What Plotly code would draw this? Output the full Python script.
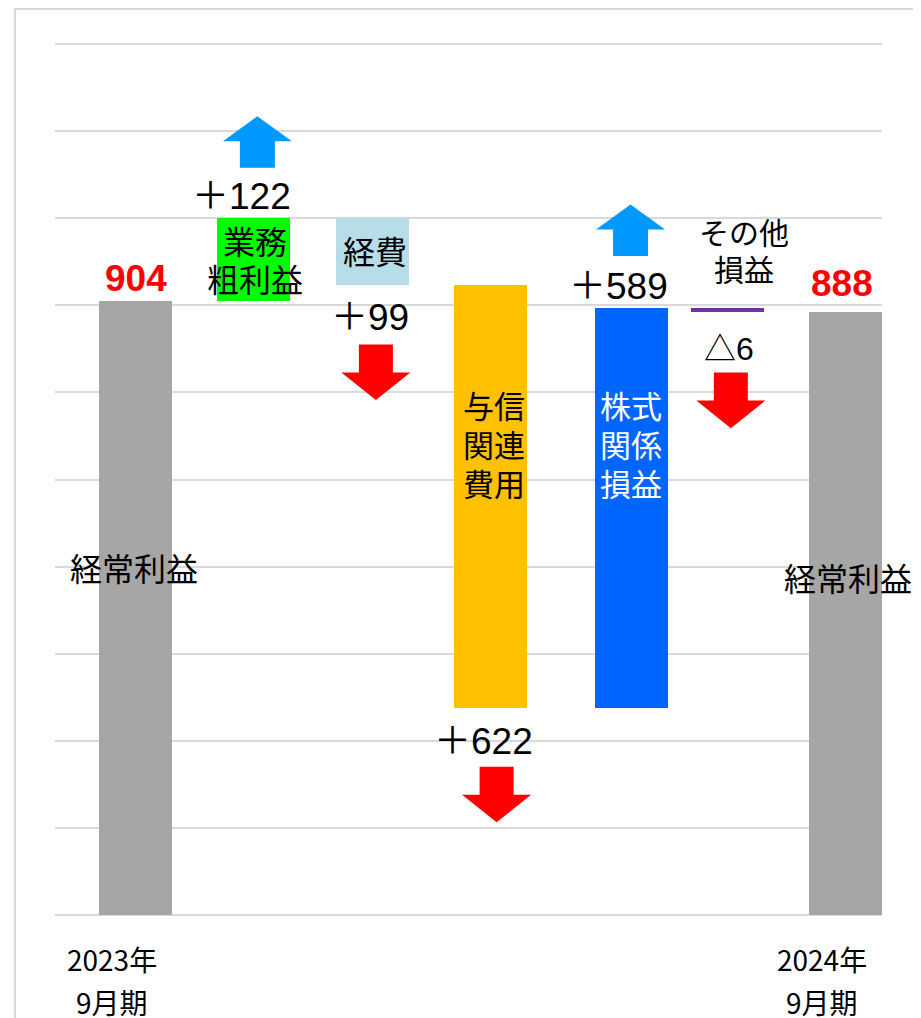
import numpy as np
import plotly.graph_objects as go

# ---------------- data ----------------
categories = ["2023年9月期", "業務粗利益", "経費", "与信関連費用", "株式関係損益", "その他損益", "2024年9月期"]
axis_labels = [["2023年", "9月期"], None, None, None, None, None, ["2024年", "9月期"]]
start_value = 904
changes = [122, -99, -622, 589, -6]
end_value = 888
change_labels = ["＋122", "＋99", "＋622", "＋589", "△6"]
bar_names = [["経常利益"], ["業務", "粗利益"], ["経費"], ["与信", "関連", "費用"],
             ["株式", "関係", "損益"], ["その他", "損益"], ["経常利益"]]

# ---------------- derived waterfall geometry ----------------
levels_after = start_value + np.cumsum(changes)
levels_before = np.concatenate([[start_value], levels_after[:-1]])
bases = [0] + list(np.minimum(levels_before, levels_after)) + [0]
heights = [start_value] + list(np.abs(changes)) + [end_value]
bottoms = np.array(bases, dtype=float)
tops = bottoms + np.array(heights, dtype=float)
xs = np.arange(len(categories))

# ---------------- styles ----------------
bar_colors = ["#A6A6A6", "#00FF00", "#B7DDE8", "#FFC000", "#0066FF", "#7030A0", "#A6A6A6"]
UP = "#0099FF"
DOWN = "#FF0000"
JP = "Noto Sans CJK JP, sans-serif"
NUM = "Liberation Sans, Arial, Noto Sans CJK JP, sans-serif"

X_RANGE = [-0.681, 6.309]
PX_PER_UNIT = 827 / (X_RANGE[1] - X_RANGE[0])
BAR_W = 0.618
nudge_px = [0, 0, 0, 0, 23, 0, 0]
offsets = [-BAR_W / 2 + n / PX_PER_UNIT for n in nudge_px]

Y_MAX = 1284.8
DTICK = 128.18

fig = go.Figure()
fig.add_trace(go.Bar(
    x=xs, y=heights, base=bases, width=BAR_W, offset=offsets,
    marker=dict(color=bar_colors, line=dict(width=0)),
    hovertext=categories, hoverinfo="text", showlegend=False,
))

annotations = []
shapes = []


def txt(i, yval, dy, text, size, color="#000000", family=JP, dx=0.0, bold=False, glyph=None):
    if bold:
        text = "<b>" + text + "</b>"
    if glyph is not None:
        text = f"<span style='font-size:{glyph}px'>" + text.replace(
            "<br>", f"</span><br><span style='font-size:{glyph}px'>") + "</span>"
    annotations.append(dict(
        x=i, y=yval, xref="x", yref="y", text=text, showarrow=False,
        xanchor="center", yanchor="middle", xshift=dx + nudge_px[i], yshift=dy,
        font=dict(family=family, size=size, color=color),
    ))


def arrow(i, yval, up, gap, dx, color):
    cx = dx + nudge_px[i]
    if up:
        pts = [(-17.5, gap), (17.5, gap), (17.5, gap + 26.5), (34.5, gap + 26.5),
               (0, gap + 51.5), (-34.5, gap + 26.5), (-17.5, gap + 26.5)]
    else:
        pts = [(-17, -gap), (17, -gap), (17, -gap - 28), (34.5, -gap - 28),
               (0, -gap - 55.6), (-34.5, -gap - 28), (-17, -gap - 28)]
    path = "M" + "L".join(f"{x + cx:.1f},{y:.1f}" for x, y in pts) + "Z"
    shapes.append(dict(type="path", xref="x", yref="y", xsizemode="pixel", ysizemode="pixel",
                       xanchor=i, yanchor=float(yval), path=path, fillcolor=color,
                       line=dict(width=0), layer="above"))


# totals
txt(0, tops[0], 22.4, f"{start_value}", 37, "#FF0000", NUM, dx=0.4, bold=True)
txt(6, tops[6], 28.3, f"{end_value}", 37, "#FF0000", NUM, dx=-3.6, bold=True)
txt(0, tops[0], -266, bar_names[0][0], 32, dx=-1.3)
txt(6, tops[6], -265.8, bar_names[6][0], 32, dx=3.0)

# gross profit (bar 1)
mid1 = (tops[1] + bottoms[1]) / 2
txt(1, mid1, 0, "<br>".join(bar_names[1]), 29, dx=1, glyph=32)
txt(1, tops[1], 21.3, change_labels[0], 37, family=NUM, dx=-12)
arrow(1, tops[1], True, 50, 3.5, UP)

# expenses (bar 2)
mid2 = (tops[2] + bottoms[2]) / 2
txt(2, mid2, 1, bar_names[2][0], 32, dx=3.3)
txt(2, bottoms[2], -32.5, change_labels[1], 37, family=NUM, dx=-2.5)
arrow(2, bottoms[2], False, 59.3, 3.7, DOWN)

# credit costs (bar 3)
txt(3, tops[3], -158, "<br>".join(bar_names[3]), 30, dx=3.3, glyph=31)
txt(3, bottoms[3], -33.7, change_labels[2], 37, family=NUM, dx=-6.7)
arrow(3, bottoms[3], False, 59, 6.1, DOWN)

# equity (bar 4)
txt(4, tops[4], -135.6, "<br>".join(bar_names[4]), 30, "#FFFFFF", dx=-0.8, glyph=31)
txt(4, tops[4], 21.3, change_labels[3], 37, family=NUM, dx=-13.8)
arrow(4, tops[4], True, 51.6, -1.3, UP)

# other (bar 5)
txt(5, tops[5], 58.2, "<br>".join(bar_names[5]), 28.5, dx=17, glyph=30)
txt(5, bottoms[5], -37, change_labels[4], 32, family=NUM, dx=2)
arrow(5, bottoms[5], False, 61, 3.7, DOWN)

# x axis labels
for i, lab in enumerate(axis_labels):
    if lab is None:
        continue
    for k, dy in enumerate([-44, -86.5]):
        annotations.append(dict(
            x=i, y=0, xref="x", yref="paper", text=lab[k], showarrow=False,
            xanchor="center", yanchor="middle", xshift=-23.4, yshift=dy,
            font=dict(family=JP, size=28, color="#000000"),
        ))

# outer frame
shapes.append(dict(type="rect", xref="paper", yref="paper",
                   x0=-0.0484, x1=1.0399, y0=-0.2, y1=1.0378,
                   line=dict(color="#D9D9D9", width=2), fillcolor="rgba(0,0,0,0)", layer="below"))

# the page body adds an 8px offset; size the figure to fill the rest of the window
fig.update_layout(
    width=913, height=1010,
    margin=dict(l=47, r=39, t=34, b=103, pad=0),
    paper_bgcolor="#FFFFFF", plot_bgcolor="#FFFFFF",
    bargap=0,
    xaxis=dict(range=X_RANGE, showgrid=False, zeroline=False, showline=False,
               showticklabels=False, ticks="", fixedrange=True),
    yaxis=dict(range=[0, Y_MAX], tick0=0, dtick=DTICK, showgrid=True,
               gridcolor="#D9D9D9", gridwidth=2, zeroline=True, zerolinecolor="#D9D9D9",
               zerolinewidth=2, showline=False, showticklabels=False, ticks="", fixedrange=True),
    annotations=annotations,
    shapes=shapes,
    showlegend=False,
)

fig.write_html("out.html")
